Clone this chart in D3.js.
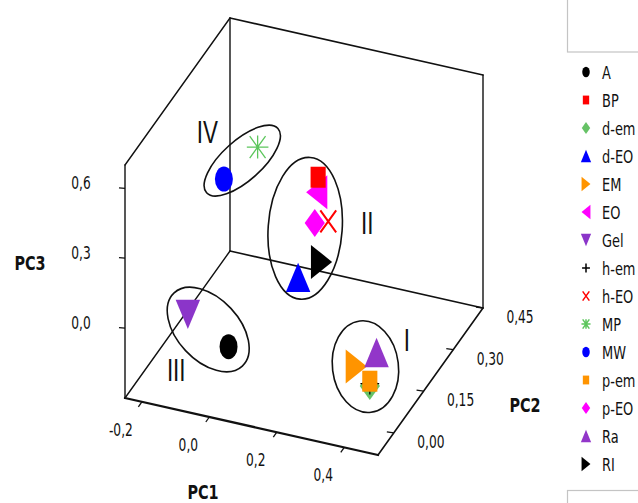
<!DOCTYPE html>
<html>
<head>
<meta charset="utf-8">
<script src="https://cdn.jsdelivr.net/npm/d3@7"></script>
<style>
  body { margin: 0; background: #fff; }
  svg { display: block; }
</style>
</head>
<body>
<svg id="chart" width="638" height="503"></svg>
<script>
// sample names, legend order
const samples = ['A', 'BP', 'd-em', 'd-EO', 'EM', 'EO', 'Gel', 'h-em', 'h-EO', 'MP', 'MW', 'p-em', 'p-EO', 'Ra', 'RI'];
// principal component scores
const pc1 = [0.01, 0.07, 0.37, 0.04, 0.33, 0.06, -0.14, 0.37, 0.10, -0.08, -0.18, 0.37, 0.06, 0.39, 0.08];
const pc2 = [0.00, 0.35, 0.10, 0.30, 0.10, 0.36, 0.05, 0.10, 0.35, 0.30, 0.30, 0.10, 0.35, 0.10, 0.35];
const pc3 = [-0.09, 0.24, -0.26, -0.14, -0.19, 0.16, -0.06, -0.25, 0.06, 0.38, 0.21, -0.24, 0.04, -0.11, -0.12];

const pc1Ticks = [-0.2, 0.0, 0.2, 0.4];
const pc2Ticks = [0.00, 0.15, 0.30, 0.45];
const pc3Ticks = [0.0, 0.3, 0.6];

// groups circled on the plot
const clusterNames = ['I', 'II', 'III', 'IV'];
const clusterMembers = [
    ['Ra', 'EM', 'p-em', 'd-em', 'h-em'],
    ['BP', 'EO', 'p-EO', 'h-EO', 'RI', 'd-EO'],
    ['Gel', 'A'],
    ['MW', 'MP']
];

const svg = d3.select('#chart');
const numFont = '"DejaVu Sans", Verdana, sans-serif';
const SX = 0.72; // the original figure is squeezed horizontally

const locale = d3.formatLocale({ decimal: ',', thousands: '.', grouping: [3], currency: ['', ''], minus: '-' });

// oblique box projection: each PC maps to a unit fraction, then onto a screen edge vector
const f1 = d3.scaleLinear().domain([-0.25, 0.5]).range([0, 1]);
const f2 = d3.scaleLinear().domain([-0.08, 0.45]).range([0, 1]);
const f3 = d3.scaleLinear().domain([-0.3, 0.7]).range([0, 1]);
const O = [125, 398], EX = [253, 57], EY = [105, -147], EZ = [0, -233];
function proj(a, b, c) {
    const u = f1(a), v = f2(b), w = f3(c);
    return [O[0] + u * EX[0] + v * EY[0] + w * EZ[0], O[1] + u * EX[1] + v * EY[1] + w * EZ[1]];
}

const shape = d3.scaleOrdinal().domain(samples)
    .range(['circle', 'square', 'diamond', 'triUp', 'triRight', 'triLeft', 'triDown', 'plus', 'cross', 'star', 'circle', 'square', 'diamond', 'triUp', 'triRight']);
const color = d3.scaleOrdinal().domain(samples)
    .range(['#000000', '#ff0000', '#66c266', '#0000ff', '#ff9400', '#ff00ff', '#8b35c9', '#000000', '#ff0000', '#5cc65c', '#0000ff', '#ff9400', '#ff00ff', '#9236c9', '#000000']);

function markerPath(kind, k) {
    const p = d3.path();
    const tri = (s) => [s / 2, s * 0.866 / 2];
    if (kind === 'circle') { p.arc(0, 0, 12.5 * k, 0, 2 * Math.PI); }
    else if (kind === 'square') { const h = 10.5 * k; p.rect(-h, -h, 2 * h, 2 * h); }
    else if (kind === 'diamond') { const h = 14 * k; p.moveTo(0, -h); p.lineTo(h, 0); p.lineTo(0, h); p.lineTo(-h, 0); p.closePath(); }
    else if (kind === 'triUp') { const [a, b] = tri(34 * k); p.moveTo(0, -b); p.lineTo(a, b); p.lineTo(-a, b); p.closePath(); }
    else if (kind === 'triDown') { const [a, b] = tri(34 * k); p.moveTo(0, b); p.lineTo(a, -b); p.lineTo(-a, -b); p.closePath(); }
    else if (kind === 'triRight') { const [a, b] = tri(34 * k); p.moveTo(b, 0); p.lineTo(-b, a); p.lineTo(-b, -a); p.closePath(); }
    else if (kind === 'triLeft') { const [a, b] = tri(34 * k); p.moveTo(-b, 0); p.lineTo(b, a); p.lineTo(b, -a); p.closePath(); }
    else if (kind === 'cross') { const h = 11 * k; p.moveTo(-h, -h); p.lineTo(h, h); p.moveTo(h, -h); p.lineTo(-h, h); }
    else if (kind === 'plus') { p.moveTo(-13 * k, 0); p.lineTo(13 * k, 0); p.moveTo(0, -11 * k); p.lineTo(0, 11 * k); }
    else if (kind === 'star') {
        p.moveTo(-15 * k, 0); p.lineTo(15 * k, 0);
        p.moveTo(0, -11.5 * k); p.lineTo(0, 11.5 * k);
        p.moveTo(-11 * k, -11 * k); p.lineTo(11 * k, 11 * k);
        p.moveTo(11 * k, -11 * k); p.lineTo(-11 * k, 11 * k);
    }
    return p.toString();
}
const isLine = k => k === 'cross' || k === 'plus' || k === 'star';

function drawMarker(parent, name, x, y, k, sw) {
    const kind = shape(name);
    parent.append('path')
        .attr('transform', `translate(${x},${y}) scale(${SX},1)`)
        .attr('d', markerPath(kind, k))
        .attr('fill', isLine(kind) ? 'none' : color(name))
        .attr('stroke', isLine(kind) ? color(name) : 'none')
        .attr('stroke-width', sw)
        .attr('vector-effect', 'non-scaling-stroke');
}

function addText(parent, x, y, str, opts = {}) {
    return parent.append('text')
        .attr('transform', `translate(${x},${y}) scale(${opts.sx || SX},1)`)
        .attr('text-anchor', opts.anchor || 'middle')
        .attr('font-family', opts.family || numFont)
        .attr('font-size', (opts.size || 17) + 'px')
        .attr('font-weight', opts.weight || 'normal')
        .attr('fill', '#111')
        .text(str);
}

// BOX FRAME
const [a0, a1] = f1.domain(), [b0, b1] = f2.domain(), [c0, c1] = f3.domain();
const edges = [
    [[a0, b0, c0], [a0, b0, c1], 1.4],
    [[a0, b0, c0], [a1, b0, c0], 2.3],
    [[a1, b0, c0], [a1, b1, c0], 1.6],
    [[a0, b0, c0], [a0, b1, c0], 1.4],
    [[a0, b1, c0], [a1, b1, c0], 1.6],
    [[a0, b1, c0], [a0, b1, c1], 1.4],
    [[a0, b0, c1], [a0, b1, c1], 1.4],
    [[a0, b1, c1], [a1, b1, c1], 1.6],
    [[a1, b1, c0], [a1, b1, c1], 1.4]
];
const frame = svg.append('g').attr('stroke', '#111').attr('stroke-linecap', 'round');
edges.forEach(([p, q, w]) => {
    const s = proj(...p), t = proj(...q);
    frame.append('line').attr('x1', s[0]).attr('y1', s[1]).attr('x2', t[0]).attr('y2', t[1]).attr('stroke-width', w);
});

// AXES: ticks + labels
const axes = svg.append('g');
const fmt1 = locale.format('.1f'), fmt2 = locale.format('.2f');
pc1Ticks.forEach(t => {
    const [x, y] = proj(t, b0, c0);
    axes.append('line').attr('x1', x).attr('y1', y).attr('x2', x - 3.5).attr('y2', y + 5).attr('stroke', '#111').attr('stroke-width', 1.3);
    addText(axes, x - 21, y + 34, fmt1(t));
});
pc2Ticks.forEach(t => {
    const [x, y] = proj(a1, t, c0);
    axes.append('line').attr('x1', x).attr('y1', y).attr('x2', x - 7).attr('y2', y - 1).attr('stroke', '#111').attr('stroke-width', 1.3);
    addText(axes, x + 37, y + 15, fmt2(t));
});
pc3Ticks.forEach(t => {
    const [x, y] = proj(a0, b0, t);
    axes.append('line').attr('x1', x).attr('y1', y).attr('x2', x - 6).attr('y2', y - 0.5).attr('stroke', '#111').attr('stroke-width', 1.3);
    addText(axes, x - 44, y + 1, fmt1(t));
});
{
    const m1 = proj((a0 + a1) / 2, b0, c0);
    addText(axes, m1[0] - 48.5, m1[1] + 72.5, 'PC1', { size: 20, weight: 'bold' });
    const m2 = proj(a1, (b0 + b1) / 2, c0);
    addText(axes, m2[0] + 94.5, m2[1] + 30.5, 'PC2', { size: 20, weight: 'bold' });
    const m3 = proj(a0, b0, (c0 + c1) / 2);
    addText(axes, m3[0] - 95, m3[1] - 11.5, 'PC3', { size: 20, weight: 'bold' });
}

// POINTS (far to near)
const pos = new Map();
samples.forEach((s, i) => pos.set(s, proj(pc1[i], pc2[i], pc3[i])));
const order = d3.range(samples.length).sort((i, j) => d3.descending(pc2[i], pc2[j]) || i - j);
const pts = svg.append('g');
order.forEach(i => {
    const [x, y] = pos.get(samples[i]);
    const kind = shape(samples[i]);
    drawMarker(pts, samples[i], x, y, 1, kind === 'cross' ? 2 : 1.3);
});

// CLUSTER RINGS
const ring = {
    'I':   { dx: -1, dy: -2.5, rx: 33, ry: 46, rot: -7, lx: 41.5, ly: -27.5 },
    'II':  { dx: -8, dy: 1, rx: 37, ry: 71, rot: 4, lx: 62, ly: -6 },
    'III': { dx: 0, dy: -1, rx: 50, ry: 31, rot: 47, lx: -32, ly: 40 },
    'IV':  { dx: 1.5, dy: -2.5, rx: 48, ry: 20, rot: -42, lx: -35, ly: -29 }
};
const rings = svg.append('g');
clusterNames.forEach((name, ci) => {
    const ps = clusterMembers[ci].map(s => pos.get(s));
    const cx = (d3.min(ps, p => p[0]) + d3.max(ps, p => p[0])) / 2 + ring[name].dx;
    const cy = (d3.min(ps, p => p[1]) + d3.max(ps, p => p[1])) / 2 + ring[name].dy;
    const r = ring[name];
    rings.append('ellipse')
        .attr('cx', cx).attr('cy', cy).attr('rx', r.rx).attr('ry', r.ry)
        .attr('transform', `rotate(${r.rot},${cx},${cy})`)
        .attr('fill', 'none').attr('stroke', '#111').attr('stroke-width', 1.6);
    addText(rings, cx + r.lx, cy + r.ly + 11.5, name, { size: 32, sx: 0.7, family: '"Liberation Sans", Arial, sans-serif' });
});

// LEGEND
const leg = svg.append('g');
leg.append('rect').attr('x', 567.5).attr('y', -2).attr('width', 80).attr('height', 54)
    .attr('fill', 'none').attr('stroke', '#c4c4c4').attr('stroke-width', 1.2);
leg.append('rect').attr('x', 567.5).attr('y', 490.5).attr('width', 80).attr('height', 20)
    .attr('fill', 'none').attr('stroke', '#c4c4c4').attr('stroke-width', 1.2);
samples.forEach((s, i) => {
    const y = 72 + i * 28;
    drawMarker(leg, s, 586, y, 0.42, isLine(shape(s)) ? 1.5 : 1);
    addText(leg, 602, y + 6.5, s, { size: 18, anchor: 'start' });
});
</script>
</body>
</html>
